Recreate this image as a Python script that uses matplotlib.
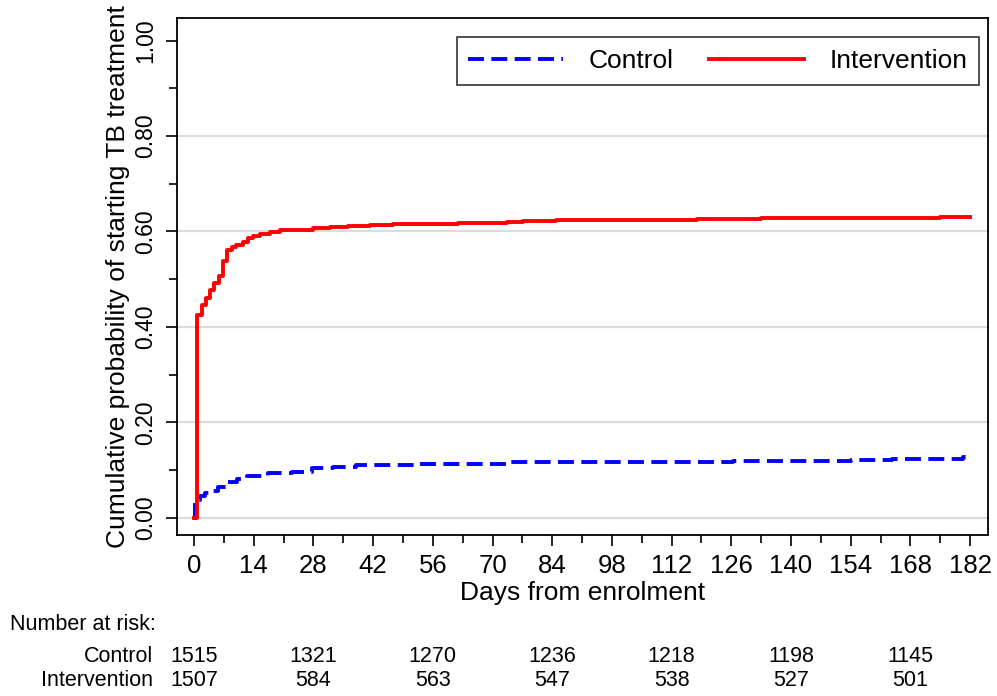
import matplotlib
matplotlib.use("Agg")
import matplotlib.pyplot as plt
from matplotlib.ticker import MultipleLocator, FormatStrFormatter

# cumulative probability curves (day, probability)
ctrl_days = [0, 0.3, 1.4, 2.6, 4.5, 5.6, 8, 10, 12.4, 17.4, 23, 27.7, 32.7, 38, 43,
             52.5, 73.4, 78.3, 126.4, 154, 163.7, 180.3, 182]
ctrl_prob = [0.0, 0.038, 0.045, 0.052, 0.057, 0.064, 0.076, 0.081, 0.087, 0.094, 0.097,
             0.104, 0.107, 0.110, 0.111, 0.113, 0.116, 0.118, 0.120, 0.122, 0.124,
             0.127, 0.127]

int_days = [0, 0.8, 1.8, 2.8, 3.75, 4.8, 5.9, 6.9, 7.7, 8.8, 9.8, 11.5, 12.7, 13.9, 15.5,
            17.8, 20.2, 22.5, 28, 32, 36, 41.3, 46.7, 57, 62, 70, 73.4, 77.2, 81, 85,
            99, 118, 133, 137, 175, 182]
int_prob = [0.0, 0.425, 0.446, 0.461, 0.477, 0.491, 0.507, 0.538, 0.561, 0.568, 0.572,
            0.577, 0.586, 0.591, 0.595, 0.598, 0.602, 0.603, 0.607, 0.610, 0.612, 0.614,
            0.615, 0.6155, 0.617, 0.618, 0.619, 0.621, 0.6225, 0.624, 0.625, 0.627,
            0.628, 0.629, 0.631, 0.631]

risk_days = [0, 28, 56, 84, 112, 140, 168]
risk_control = [1515, 1321, 1270, 1236, 1218, 1198, 1145]
risk_intervention = [1507, 584, 563, 547, 538, 527, 501]

plt.rcParams["font.family"] = ["Liberation Sans", "DejaVu Sans"]

fig = plt.figure(figsize=(9.97, 6.96), dpi=100)
ax = fig.add_axes([0.1775, 0.2313, 0.8135, 0.7427])

for y in [0, 0.2, 0.4, 0.6, 0.8]:
    ax.axhline(y, color="#dcdcdc", lw=1.6, zorder=0)

ax.step(ctrl_days, ctrl_prob, where="post", color="#0000ff", lw=2.8,
        dashes=(4.1, 1.9), label="Control")
ax.step(int_days, int_prob, where="post", color="#ff0000", lw=2.8,
        label="Intervention")

ax.set_xlim(-4.0, 186.2)
ax.set_ylim(-0.036, 1.047)
ax.xaxis.set_major_locator(MultipleLocator(14))
ax.xaxis.set_minor_locator(MultipleLocator(7))
ax.yaxis.set_major_locator(MultipleLocator(0.2))
ax.yaxis.set_minor_locator(MultipleLocator(0.1))
ax.yaxis.set_major_formatter(FormatStrFormatter("%.2f"))
ax.set_xticks(range(0, 183, 14))
ax.tick_params(which="major", length=8, width=1.2)
ax.tick_params(which="minor", length=5.5, width=1.2)
ax.tick_params(axis="x", which="major", labelsize=18.5, pad=6)
ax.tick_params(axis="y", which="major", labelsize=16.5, pad=6)
for lab in ax.get_yticklabels():
    lab.set_rotation(90)
    lab.set_va("center")
for s in ax.spines.values():
    s.set_linewidth(1.3)

ax.set_xlabel("Days from enrolment", fontsize=19, labelpad=2)
ax.set_ylabel("Cumulative probability of starting TB treatment", fontsize=19, labelpad=3)

leg = ax.legend(loc="upper right", ncol=2, fontsize=19, frameon=True, fancybox=False,
                edgecolor="black", handlelength=3.6, handletextpad=0.95,
                columnspacing=1.35, borderpad=0.45, borderaxespad=0,
                bbox_to_anchor=(0.9889, 0.963))
leg.get_frame().set_linewidth(1.2)

# number at risk table
fig.text(10 / 997, 1 - 625 / 696, "Number at risk:", fontsize=15.5,
         va="center", ha="left")
for row, (name, vals) in enumerate([("Control", risk_control),
                                    ("Intervention", risk_intervention)]):
    ypix = 656 + row * 24
    fig.text(153 / 997, 1 - ypix / 696, name, fontsize=15.5, va="center", ha="right")
    for d, v in zip(risk_days, vals):
        xf = ax.transData.transform((d, 0))[0] / fig.bbox.width
        fig.text(xf, 1 - ypix / 696, str(v), fontsize=15.5, va="center", ha="center")

fig.savefig("out.png", dpi=100)
